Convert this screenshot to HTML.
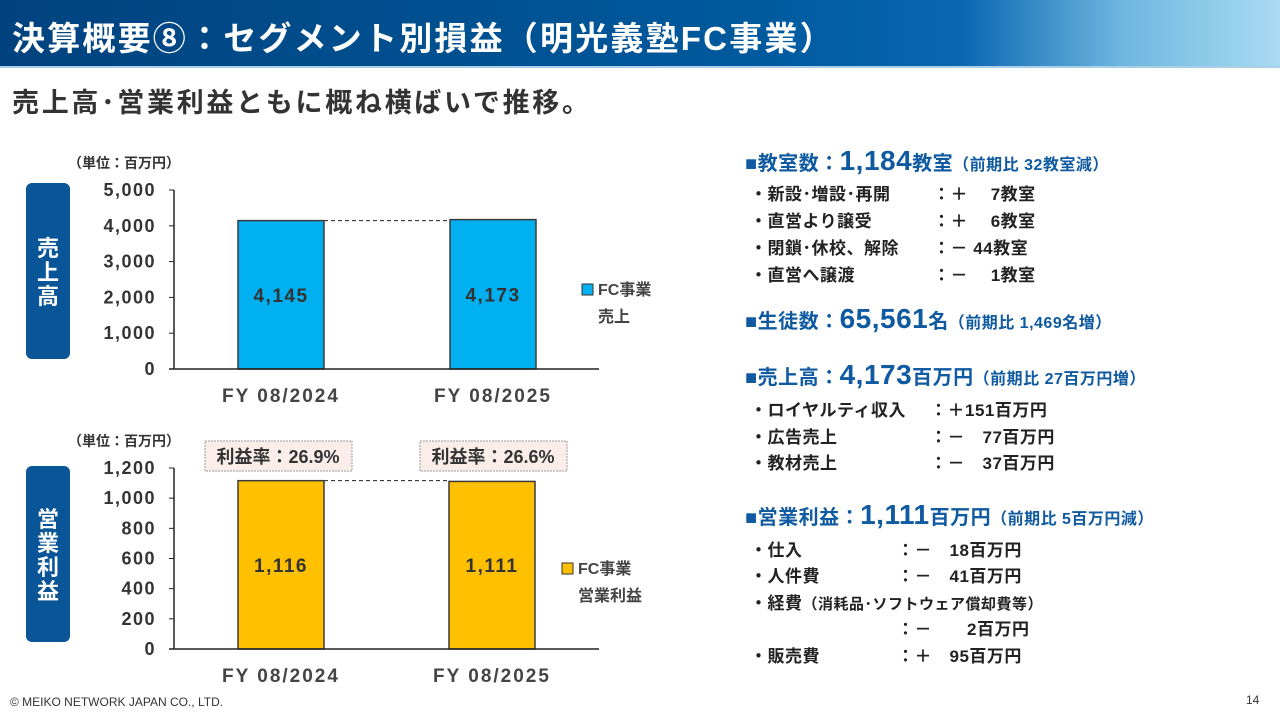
<!DOCTYPE html>
<html><head><meta charset="utf-8">
<style>
body{margin:0;width:1280px;height:720px;overflow:hidden;background:#fff;font-family:"Liberation Sans","Noto Sans CJK JP",sans-serif;position:relative}
.a{position:absolute;white-space:nowrap}
.hdr{left:0;top:0;width:1280px;height:66px;background:linear-gradient(90deg,#00427e 0%,#005a9e 60%,#0a66b0 75%,#6fb8e0 88%,#a9dbf2 100%);border-bottom:2px solid #a9cfe8}
.t{color:#fff;font-size:33px;font-weight:bold;left:12px;top:12px;letter-spacing:2.2px}
.sub{color:#333;font-size:27px;font-weight:bold;left:12px;top:81px;letter-spacing:2.7px}
.side{background:#0a5597;border-radius:6px;width:44px;color:#fff;font-weight:bold;font-size:22px;text-align:center;line-height:24px}
.h{color:#0f5aa0;font-weight:bold;font-size:20px;letter-spacing:0.5px}
.h b{font-size:28px}
.h small{font-size:16px}
.i{font-size:17px;font-weight:bold;color:#222;letter-spacing:0.5px}
</style></head><body>
<div class="a hdr"></div>
<div class="a t">決算概要⑧：セグメント別損益（明光義塾FC事業）</div>
<div class="a sub">売上高･営業利益ともに概ね横ばいで推移。</div>

<div class="a side" style="left:26px;top:183px;height:176px;padding-top:54px;box-sizing:border-box">売<br>上<br>高</div>
<div class="a side" style="left:26px;top:466px;height:176px;padding-top:42px;box-sizing:border-box">営<br>業<br>利<br>益</div>

<svg class="a" style="left:0;top:0" width="720" height="700" id="charts"></svg>

<div class="a h" style="left:745px;top:145px">■教室数：<b>1,184</b>教室<small>（前期比 32教室減）</small></div>
<div class="a i" style="left:750px;top:180px">・新設･増設･再開</div><div class="a i" style="left:933px;top:180px">：＋　 7教室</div>
<div class="a i" style="left:750px;top:207px">・直営より譲受</div><div class="a i" style="left:933px;top:207px">：＋　 6教室</div>
<div class="a i" style="left:750px;top:234px">・閉鎖･休校、解除</div><div class="a i" style="left:933px;top:234px">：－ 44教室</div>
<div class="a i" style="left:750px;top:261px">・直営へ譲渡</div><div class="a i" style="left:933px;top:261px">：－　 1教室</div>

<div class="a h" style="left:745px;top:303px">■生徒数：<b>65,561</b>名<small>（前期比 1,469名増）</small></div>

<div class="a h" style="left:745px;top:359px">■売上高：<b>4,173</b>百万円<small>（前期比 27百万円増）</small></div>
<div class="a i" style="left:750px;top:396px">・ロイヤルティ収入</div><div class="a i" style="left:930px;top:396px">：＋151百万円</div>
<div class="a i" style="left:750px;top:423px">・広告売上</div><div class="a i" style="left:930px;top:423px">：－　77百万円</div>
<div class="a i" style="left:750px;top:449px">・教材売上</div><div class="a i" style="left:930px;top:449px">：－　37百万円</div>

<div class="a h" style="left:745px;top:499px">■営業利益：<b>1,111</b>百万円<small>（前期比 5百万円減）</small></div>
<div class="a i" style="left:750px;top:536px">・仕入</div><div class="a i" style="left:897px;top:536px">：－　18百万円</div>
<div class="a i" style="left:750px;top:562px">・人件費</div><div class="a i" style="left:897px;top:562px">：－　41百万円</div>
<div class="a i" style="left:750px;top:589px">・経費<span style="font-size:15px">（消耗品･ソフトウェア償却費等）</span></div>
<div class="a i" style="left:897px;top:615px">：－　　2百万円</div>
<div class="a i" style="left:750px;top:642px">・販売費</div><div class="a i" style="left:897px;top:642px">：＋　95百万円</div>

<div class="a" style="left:10px;top:695px;font-size:12px;color:#333">© MEIKO NETWORK JAPAN CO., LTD.</div>
<div class="a" style="left:1246px;top:693px;font-size:12px;color:#333">14</div>

<script>
const categories=["FY 08/2024","FY 08/2025"];
const salesValues=[4145,4173];
const salesTicks=[0,1000,2000,3000,4000,5000];
const profitValues=[1116,1111];
const profitTicks=[0,200,400,600,800,1000,1200];
const marginLabels=["利益率：26.9%","利益率：26.6%"];
const NS="http://www.w3.org/2000/svg";
const svg=document.getElementById('charts');
function mk(t,a,txt){const e=document.createElementNS(NS,t);for(const k in a)e.setAttribute(k,a[k]);if(txt!==undefined)e.textContent=txt;svg.appendChild(e);return e;}
function chart(cfg){
  const y=v=>cfg.y0-(v/cfg.max)*(cfg.y0-cfg.y1);
  const xc=i=>cfg.x0+cfg.bandStart+i*cfg.band;
  const l=mk('text',{x:68,y:cfg.y1-22,'font-size':14,'font-weight':'bold',fill:'#333'},'（単位：百万円）');
  
  mk('line',{x1:cfg.x0,y1:cfg.y1,x2:cfg.x0,y2:cfg.y0,stroke:'#222','stroke-width':1.5});
  cfg.ticks.forEach(t=>{
    mk('line',{x1:cfg.x0-5,y1:y(t),x2:cfg.x0,y2:y(t),stroke:'#222'});
    const tx=mk('text',{x:cfg.x0-18,y:y(t)+6,'text-anchor':'end','font-size':18,'font-weight':'bold','letter-spacing':1.5,fill:'#333'},t.toLocaleString('en-US'));
    
  });
  const bw=86;
  mk('line',{x1:xc(0)+bw/2,y1:y(cfg.vals[0]),x2:xc(1)-bw/2,y2:y(cfg.vals[0]),stroke:'#222','stroke-dasharray':'4,3'});
  cfg.vals.forEach((v,i)=>{
    const r=mk('rect',{x:xc(i)-bw/2,y:y(v),width:bw,height:cfg.y0-y(v),fill:cfg.color,stroke:'#3a3a3a','stroke-width':1.5});
    
    const vt=mk('text',{x:xc(i),y:(y(v)+cfg.y0)/2+7,'text-anchor':'middle','font-size':19,'font-weight':'bold','letter-spacing':1.5,fill:'#333'},v.toLocaleString('en-US'));
    
    const ct=mk('text',{x:xc(i),y:cfg.y0+33,'text-anchor':'middle','font-size':19,'font-weight':'bold','letter-spacing':2,fill:'#444'},categories[i]);
    
  });
  mk('line',{x1:cfg.x0-5,y1:cfg.y0,x2:cfg.x0+425,y2:cfg.y0,stroke:'#222','stroke-width':1.5});
  const lg=mk('rect',{x:cfg.legX,y:cfg.legY-10,width:11,height:11,fill:cfg.color,stroke:'#333'});
  
  mk('text',{x:cfg.legX+16,y:cfg.legY+1,'font-size':16,'font-weight':'bold',fill:'#444'},'FC事業');
  mk('text',{x:cfg.legX+16,y:cfg.legY+28,'font-size':16,'font-weight':'bold',fill:'#444'},cfg.leg2);
  if(cfg.margins){cfg.margins.forEach((m,i)=>{
    const bx=xc(i)-76+i*4;
    mk('rect',{x:bx,y:cfg.y1-27,width:147,height:30,fill:'#fbeeea',stroke:'#999','stroke-dasharray':'2,1'});
    const mt=mk('text',{x:bx+73,y:cfg.y1-5,'text-anchor':'middle','font-size':18,'font-weight':'bold',fill:'#333'},m);
    
  });}
}
chart({name:'sales',x0:174,y0:369,y1:190,max:5000,ticks:salesTicks,vals:salesValues,color:'#00b0f0',bandStart:107,band:212,legY:294,legX:582,leg2:'売上'});
chart({name:'profit',x0:174,y0:649,y1:468,max:1200,ticks:profitTicks,vals:profitValues,color:'#ffc000',bandStart:107,band:211,legY:573,legX:562,leg2:'営業利益',margins:marginLabels});
</script>
</body></html>
